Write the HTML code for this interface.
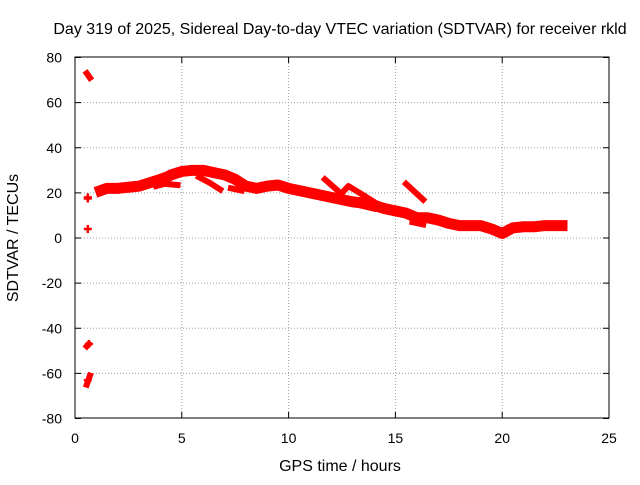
<!DOCTYPE html>
<html><head><meta charset="utf-8"><style>
body{margin:0;background:#fff;}
svg text{font-family:"Liberation Sans",sans-serif;font-size:14px;fill:#000;}
svg text.big{font-size:16px;}
</style></head><body>
<svg id="chart" width="640" height="480">
<text class="big" x="340" y="34" text-anchor="middle">Day 319 of 2025, Sidereal Day-to-day VTEC variation (SDTVAR) for receiver rkld</text>
<text class="big" x="340" y="471" text-anchor="middle">GPS time / hours</text>
<text class="big" transform="translate(18,238) rotate(-90)" text-anchor="middle">SDTVAR / TECUs</text>
<g id="grid"></g><g id="ticks"></g><g id="marks"></g>
<rect x="75" y="57" width="534" height="361" fill="none" stroke="#000"/>
</svg>
<script>
const xTicks=[0,5,10,15,20,25];
const yTicks=[-80,-60,-40,-20,0,20,40,60,80];
const mainT=[1.2,1.5,2,2.5,3,3.5,4,4.3,4.5,5,5.5,6,6.5,7,7.5,8,8.5,9,9.5,10,10.5,11,11.5,12,12.5,13,13.5,14,14.5,15,15.5,16,16.5,17,17.5,18,18.5,19,19.5,20,20.5,21,21.5,22,22.5,22.8];
const mainV=[21,22,22,22.5,23,24.5,26,27,28,29.5,30,30,29,28,26,23,22,23,23.5,22,21,20,19,18,17,16,15.5,14.5,13,12,11,9,9,8,6.5,5.5,5.5,5.5,4,2,4.5,5,5,5.5,5.5,5.5];
const sideTraces=[
 {t:[3.8,4.2,4.8],v:[23,24,23.5]},
 {t:[5.8,6.3,6.8],v:[27,24.5,21.5]},
 {t:[7.3,7.8],v:[22,21]},
 {t:[11.7,12.3],v:[26,21]},
 {t:[12.5,12.8,13.5,14],v:[20,23,19,16]},
 {t:[12,14],v:[17.5,13]},
 {t:[15.5,16.3],v:[24,17]},
 {t:[15.8,16.3],v:[7,6]},
 {t:[0.55,0.7],v:[73,71]},
 {t:[0.55,0.65],v:[-48,-47]},
 {t:[0.55,0.7],v:[-65,-61]}
];
const pointT=[0.6,0.6,0.6,0.65,0.6];
const pointV=[18,4,17.5,-47,-63];
const X=t=>75+t*534/25, Y=v=>238-v*361/160;
const ns="http://www.w3.org/2000/svg";
const g=document.getElementById('grid'),tk=document.getElementById('ticks'),mk=document.getElementById('marks');
function el(tag,a,p){const e=document.createElementNS(ns,tag);for(const k in a)e.setAttribute(k,a[k]);p.appendChild(e);return e;}
xTicks.forEach(t=>{const x=X(t);
 if(t>0&&t<25){const l=el('line',{x1:x,x2:x,y1:57,y2:418,stroke:'#a0a0a0','stroke-dasharray':'1,2'},g);
 
 }
 el('line',{x1:x,x2:x,y1:418,y2:412,stroke:'#000'},tk);el('line',{x1:x,x2:x,y1:57,y2:63,stroke:'#000'},tk);
 const s=el('text',{x:x,y:443,'text-anchor':'middle'},tk);s.textContent=t;
 
 });
yTicks.forEach(v=>{const y=Y(v);
 if(v>-80&&v<80){const l=el('line',{x1:75,x2:609,y1:y,y2:y,stroke:'#a0a0a0','stroke-dasharray':'1,2'},g);
 
 }
 el('line',{x1:75,x2:81,y1:y,y2:y,stroke:'#000'},tk);el('line',{x1:609,x2:603,y1:y,y2:y,stroke:'#000'},tk);
 const s=el('text',{x:62,y:y+5,'text-anchor':'end'},tk);s.textContent=v;
 
 });
function poly(T,V,w){const pts=T.map((t,i)=>X(t)+','+Y(V[i])).join(' ');
 return el('polyline',{points:pts,fill:'none',stroke:'#ff0000','stroke-width':w,'stroke-linejoin':'round','stroke-linecap':'square'},mk);}
const m=poly(mainT,mainV,11);


sideTraces.forEach(s=>{const p=poly(s.t,s.v,6);
 
 });
pointT.forEach((t,i)=>{const x=X(t),y=Y(pointV[i]);
 const p=el('path',{d:`M${x-4},${y}H${x+4}M${x},${y-4}V${y+4}`,stroke:'#ff0000','stroke-width':2.5},mk);
 
 });
</script>
</body></html>
